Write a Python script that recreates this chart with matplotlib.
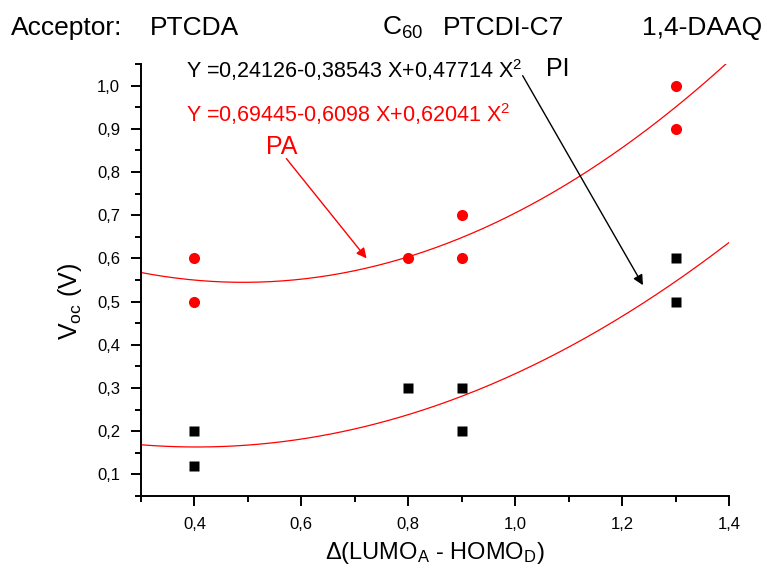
import numpy as np
import matplotlib
matplotlib.use("Agg")
import matplotlib.pyplot as plt
from matplotlib.ticker import MultipleLocator

plt.rcParams['font.family'] = ['Liberation Sans', 'DejaVu Sans']
plt.rcParams['mathtext.default'] = 'regular'

# data points
x_pa = [0.4, 0.4, 0.8, 0.9, 0.9, 1.3, 1.3]
y_pa = [0.6, 0.5, 0.6, 0.7, 0.6, 1.0, 0.9]
x_pi = [0.4, 0.4, 0.8, 0.9, 0.9, 1.3, 1.3]
y_pi = [0.2, 0.12, 0.3, 0.3, 0.2, 0.6, 0.5]

# quadratic fit coefficients as printed on the chart (a0, a1, a2)
coef_pi = [0.24126, -0.38543, 0.47714]
coef_pa = [0.69445, -0.6098, 0.62041]

acceptors = ["PTCDA", "C$_{60}$", "PTCDI-C7", "1,4-DAAQ"]


def comma(val, pos):
    return ("%.1f" % val).replace(".", ",")


fig = plt.figure(figsize=(7.67, 5.72), dpi=100)
ax = fig.add_axes([0.1838, 0.1329, 0.9505 - 0.1838, 0.8881 - 0.1329])

xx = np.linspace(0.3, 1.4, 300)
ax.plot(xx, np.polyval(coef_pa[::-1], xx), color='red', lw=0.9)
ax.plot(xx, np.polyval(coef_pi[::-1], xx), color='red', lw=0.9)

ax.plot(x_pa, y_pa, 'o', color='red', ms=8, mec='none')
ax.plot(x_pi, y_pi, 's', color='black', ms=7, mec='none')

ax.set_xlim(0.3, 1.4)
ax.set_ylim(0.05, 1.05)

ax.spines['top'].set_visible(False)
ax.spines['right'].set_visible(False)
for s in ['left', 'bottom']:
    ax.spines[s].set_linewidth(1.4)

ax.xaxis.set_major_locator(MultipleLocator(0.2))
ax.xaxis.set_minor_locator(MultipleLocator(0.1))
ax.yaxis.set_major_locator(MultipleLocator(0.1))
ax.yaxis.set_minor_locator(MultipleLocator(0.05))
ax.xaxis.set_major_formatter(plt.FuncFormatter(comma))
ax.yaxis.set_major_formatter(plt.FuncFormatter(comma))
ax.tick_params(which='major', direction='out', length=7, width=1.4, labelsize=12, pad=8)
ax.tick_params(which='minor', direction='out', length=4, width=1.4)

ax.set_xlabel(r"$\Delta$(LUMO$_A$ - HOMO$_D$)", fontsize=17, labelpad=6)
ax.set_ylabel(r"V$_{oc}$ (V)", fontsize=18)
ax.yaxis.set_label_coords(-0.097, 0.45)

# fit equations and labels
ax.text(0.385, 1.035, "Y =0,24126-0,38543 X+0,47714 X$^2$", fontsize=15.5,
        color='black', va='center', ha='left')
ax.text(0.385, 0.933, "Y =0,69445-0,6098 X+0,62041 X$^2$", fontsize=15.5,
        color='red', va='center', ha='left')
ax.text(1.058, 1.038, "PI", fontsize=18, color='black', va='center', ha='left')
ax.text(0.533, 0.857, "PA", fontsize=18, color='red', va='center', ha='left')

ax.annotate("", xy=(1.239, 0.538), xytext=(1.014, 1.023),
            arrowprops=dict(arrowstyle='-|>', color='black', lw=1,
                            mutation_scale=15, shrinkA=0, shrinkB=0))
ax.annotate("", xy=(0.722, 0.600), xytext=(0.572, 0.831),
            arrowprops=dict(arrowstyle='-|>', color='red', lw=1,
                            mutation_scale=15, shrinkA=0, shrinkB=0))

# acceptor header
fig.text(11 / 767, 1 - 28 / 572, "Acceptor:", fontsize=19, va='center')
header_x = [150, 382, 443, 642]
for name, px in zip(acceptors, header_x):
    fig.text(px / 767, 1 - 28 / 572, name, fontsize=19, va='center')

fig.savefig("out.png", dpi=100)
